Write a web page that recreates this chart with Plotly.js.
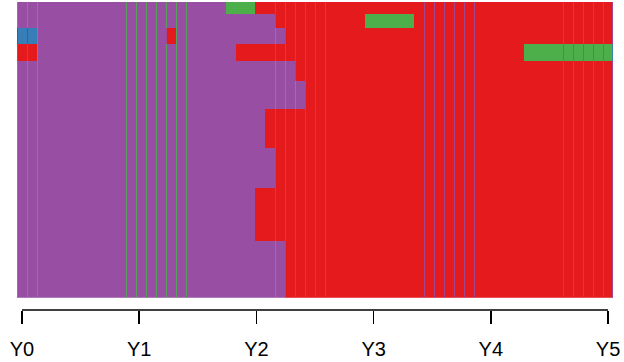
<!DOCTYPE html>
<html>
<head>
<meta charset="utf-8">
<script src="https://cdn.plot.ly/plotly-3.0.1.min.js"></script>
<style>
  html, body { margin: 0; padding: 0; background: #fff; }
  #chart { width: 624px; height: 362px; }
</style>
</head>
<body>
<div id="chart"></div>
<script>
// State alphabet and the colour of each state
const states = ['B', 'G', 'P', 'R'];
const stateColors = ['#377EB8', '#4DAF4A', '#984EA3', '#E41A1C'];

// Each row is one sequence pattern, written as runs "<state><months>"
const seqRuns = [
  'P21 G3 R36',
  'P26 R9 G5 R20',
  'B2 P13 R1 P11 R33',
  'R2 P20 R29 G9',
  'P28 R32',
  'P29 R31',
  'P25 R35',
  'P26 R34',
  'P24 R36',
  'P27 R33'
];

// Number of cases sharing each pattern (row thickness)
const rowCounts = [12, 14, 16, 17, 20, 28, 39, 40, 53, 57];

// Column boundaries (0 = left edge of the first month) that show a thin divider strip
const seamEdges = [0, 1, 2, 11, 12, 13, 14, 15, 16, 17, 26, 27, 28, 29, 30, 31,
                   41, 42, 43, 44, 45, 46, 55, 56, 57, 58, 59, 60];

// Time axis labels
const tickPos = [1, 12.8, 24.6, 36.4, 48.2, 60];
const tickText = ['Y0', 'Y1', 'Y2', 'Y3', 'Y4', 'Y5'];

// Expand the runs into a state-code matrix
const z = seqRuns.map(function (s) {
  const row = [];
  s.split(' ').forEach(function (tok) {
    const code = states.indexOf(tok[0]);
    const n = parseInt(tok.slice(1), 10);
    for (let i = 0; i < n; i++) row.push(code);
  });
  return row;
});
const nCols = z[0].length;
const nS = states.length;
const xCols = [];
for (let i = 1; i <= nCols; i++) xCols.push(i);

// Row edges from cumulative counts
const yEdges = [0];
rowCounts.forEach(function (c) { yEdges.push(yEdges[yEdges.length - 1] + c); });
const total = yEdges[yEdges.length - 1];

// Discrete colour scale: one flat band per state
const colorscale = [];
stateColors.forEach(function (c, i) {
  colorscale.push([i / nS, c]);
  colorscale.push([(i + 1) / nS, c]);
});

// Divider strips: narrow bricks at the chosen boundaries, tinted with the
// preceding state colour of the cell they sit on; gaps between them are empty
const stripW = 0.1;
const seamX = [];
const seamCol = [];
seamEdges.forEach(function (k, i) {
  const x0 = Math.min(k + 0.5, nCols + 0.5 - stripW);
  seamX.push(x0, x0 + stripW);
  seamCol.push(Math.min(k, nCols - 1));
});
const seamZ = z.map(function (row) {
  const out = [];
  seamCol.forEach(function (c, i) {
    out.push((row[c] + nS - 1) % nS);
    if (i < seamCol.length - 1) out.push(null);
  });
  return out;
});

const cells = {
  type: 'heatmap',
  z: z,
  x: xCols,
  y: yEdges,
  zmin: -0.5,
  zmax: nS - 0.5,
  colorscale: colorscale,
  showscale: false,
  zsmooth: false,
  hoverinfo: 'skip'
};

const strips = {
  type: 'heatmap',
  z: seamZ,
  x: seamX,
  y: yEdges,
  zmin: -0.5,
  zmax: nS - 0.5,
  colorscale: colorscale,
  showscale: false,
  zsmooth: false,
  opacity: 0.85,
  hoverinfo: 'skip'
};

const layout = {
  width: 624,
  height: 362,
  margin: { l: 17, r: 11, t: 2, b: 52 },
  paper_bgcolor: '#ffffff',
  plot_bgcolor: '#ffffff',
  showlegend: false,
  font: { family: 'Liberation Sans, Arial, sans-serif', color: '#000' },
  xaxis: {
    range: [0.5, nCols + 0.5],
    anchor: 'free',
    position: 0,
    showgrid: false,
    zeroline: false,
    showline: false,
    ticks: 'outside',
    ticklen: 13,
    tickwidth: 1.6,
    tickcolor: '#000',
    tickvals: tickPos,
    ticktext: tickText,
    tickfont: { size: 20, color: '#000' },
    ticklabelstandoff: 8
  },
  yaxis: {
    domain: [0.0399, 1],
    range: [total, 0],
    showgrid: false,
    zeroline: false,
    showline: false,
    showticklabels: false,
    ticks: ''
  },
  shapes: [{
    type: 'line',
    xref: 'x',
    yref: 'paper',
    x0: tickPos[0],
    x1: tickPos[tickPos.length - 1],
    y0: 0,
    y1: 0,
    line: { color: '#000', width: 1.6 }
  }]
};

Plotly.newPlot('chart', [cells, strips], layout, { staticPlot: true, displayModeBar: false });
</script>
</body>
</html>
